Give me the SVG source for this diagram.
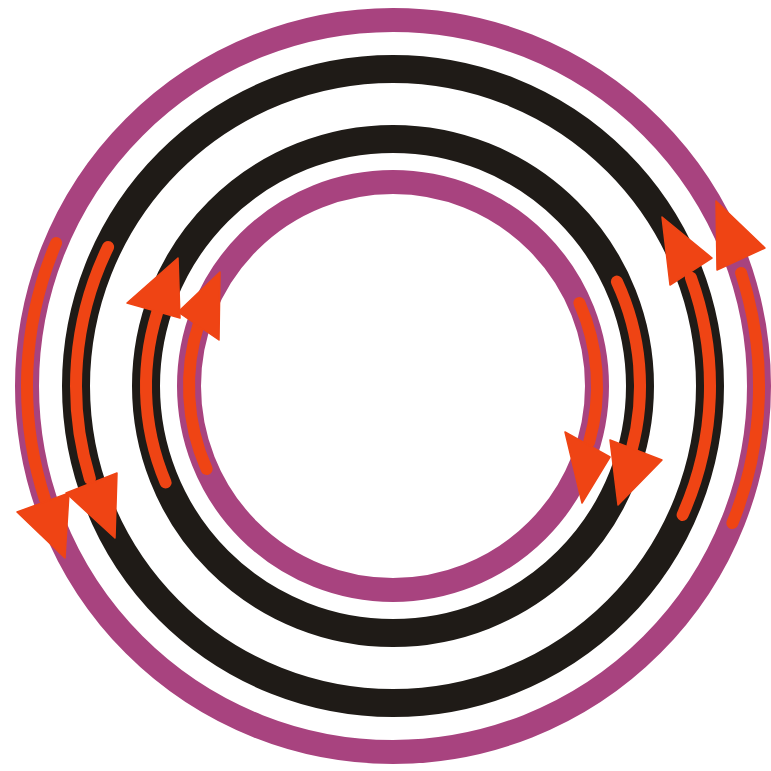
<svg xmlns="http://www.w3.org/2000/svg" width="771" height="771" viewBox="0 0 771 771">
  <style>
    .bg { fill: #ffffff; }
    .ring { fill: none; }
    .mag { stroke: #A8437F; stroke-width: 24; }
    .blk { stroke: #1F1B17; stroke-width: 28; }
    .shaft { fill: none; stroke: #EF4414; stroke-width: 12; stroke-linecap: round; }
    .head { fill: #EF4414; stroke: #EF4414; stroke-width: 1.5; stroke-linejoin: round; }
  </style>
  <rect class="bg" x="0" y="0" width="771" height="771"/>
  <g id="ring-outer-magenta"><circle class="ring mag" cx="393" cy="386" r="366"/></g>
  <g id="ring-outer-black"><circle class="ring blk" cx="393" cy="386" r="317"/></g>
  <g id="ring-inner-black"><circle class="ring blk" cx="393" cy="386" r="247"/></g>
  <g id="ring-inner-magenta"><circle class="ring mag" cx="393" cy="386" r="204"/></g>
  <g id="connectors">
    <g id="arrow-1">
      <path class="shaft" d="M56.1,243 A366,366 0 0 0 44.9,499.1"/>
      <polygon class="head" points="65,558 17,512 69,493"/>
    </g>
    <g id="arrow-2">
      <path class="shaft" d="M108.1,247 A317,317 0 0 0 89.9,478.7"/>
      <polygon class="head" points="115,538 66,493 117,473"/>
    </g>
    <g id="arrow-3">
      <path class="shaft" d="M165.6,482.5 A247,247 0 0 1 160.9,301.5"/>
      <polygon class="head" points="178,258 127,303 180,318"/>
    </g>
    <g id="arrow-4">
      <path class="shaft" d="M206.6,469 A204,204 0 0 1 199,323"/>
      <polygon class="head" points="220,272 178,312 219,340"/>
    </g>
    <g id="arrow-5">
      <path class="shaft" d="M579.4,303 A204,204 0 0 1 589.1,442.2"/>
      <polygon class="head" points="565,432 610,457 582,503"/>
    </g>
    <g id="arrow-6">
      <path class="shaft" d="M616.9,281.6 A247,247 0 0 1 631.6,449.9"/>
      <polygon class="head" points="610,440 662,460 618,505"/>
    </g>
    <g id="arrow-7">
      <path class="shaft" d="M682.6,514.9 A317,317 0 0 0 690.9,277.6"/>
      <polygon class="head" points="662,217 670,285 712,258"/>
    </g>
    <g id="arrow-8">
      <path class="shaft" d="M732.4,523.1 A366,366 0 0 0 741.1,272.9"/>
      <polygon class="head" points="716,201 717,270 765,248"/>
    </g>
  </g>
</svg>
